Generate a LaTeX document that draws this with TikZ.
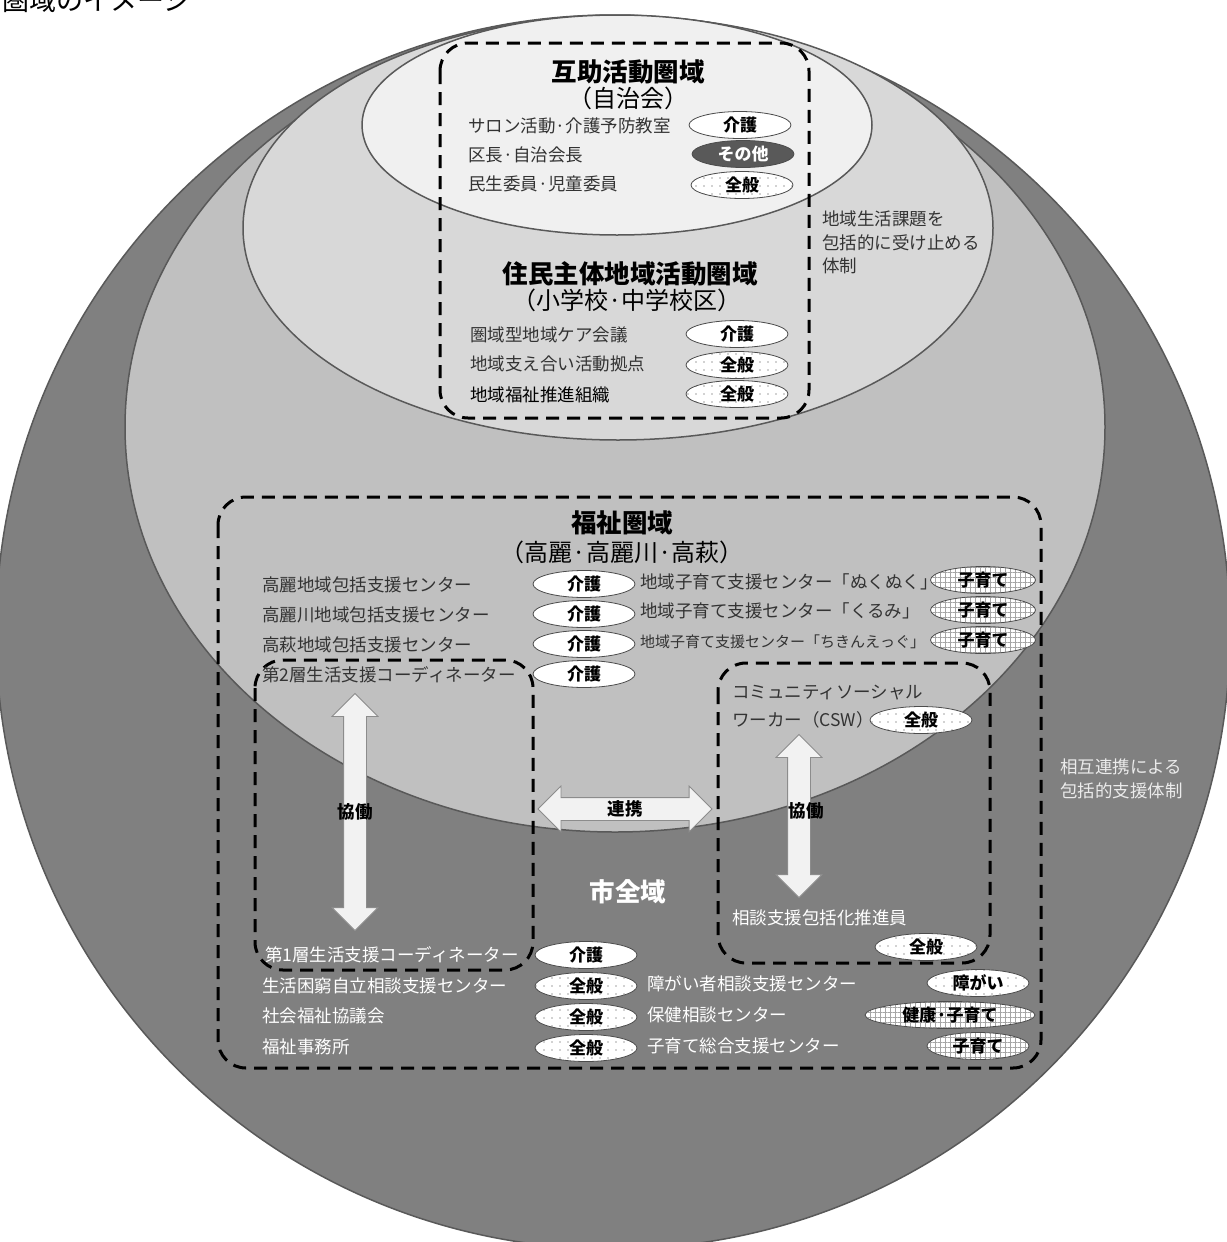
\documentclass[tikz,border=0pt]{standalone}
\usepackage{fontspec}
\setmainfont{Noto Sans CJK JP}
\usetikzlibrary{shapes.geometric,shapes.arrows,patterns.meta}
\definecolor{outergray}{RGB}{128,128,128}
\definecolor{fukugray}{RGB}{192,192,192}
\definecolor{juminggray}{RGB}{216,216,216}
\definecolor{gojogray}{RGB}{240,240,240}

\begin{document}
\begin{tikzpicture}[x=1pt,y=-1pt,
    badge/.style={ellipse,draw=black!70,line width=0.8pt,inner sep=0pt,
        minimum width=102pt,minimum height=27pt,font=\fontsize{17}{17}\selectfont\bfseries},
    kaigo/.style={badge,fill=white},
    zenpan/.style={badge,preaction={fill=white},
        pattern={Dots[distance=8pt,radius=0.6pt]},pattern color=black!75},
    kosodate/.style={badge,preaction={fill=white},
        pattern={Hatch[angle=0,distance=5pt,line width=0.5pt]},pattern color=black!35},
    sonota/.style={badge,fill=black!65,text=white},
    rowtext/.style={anchor=west,inner sep=0pt,text=black!80,font=\fontsize{17.5}{17.5}\selectfont},
    rowtextw/.style={rowtext,text=white},
    areatitle/.style={inner sep=0pt,font=\fontsize{25.5}{25.5}\selectfont\bfseries},
    areasub/.style={inner sep=0pt,font=\fontsize{24}{24}\selectfont},
    dbox/.style={line width=3pt,dash pattern=on 13pt off 8pt,rounded corners=28pt},
    blockarrow/.style={double arrow,draw=black!45,fill=black!5,line width=0.8pt,
        text width=0pt,text height=11pt,text depth=11pt,inner sep=0pt,
        double arrow head extend=11.5pt},
    arrowlabel/.style={inner sep=0pt,font=\fontsize{17.5}{17.5}\selectfont\bfseries}]

    \useasboundingbox (0,0) rectangle (1226,1242);

    \draw[draw=black!65,line width=1.5pt,fill=outergray] (613,632) circle [radius=617pt];
    \draw[draw=black!65,line width=1.5pt,fill=fukugray] (615,427) ellipse [x radius=490pt,y radius=405pt];
    \draw[draw=black!65,line width=1.5pt,fill=juminggray] (618,228) ellipse [x radius=375pt,y radius=212pt];
    \draw[draw=black!65,line width=1.5pt,fill=gojogray] (617,125) ellipse [x radius=255pt,y radius=110pt];

    \node[anchor=base west,inner sep=0pt,font=\fontsize{27}{27}\selectfont] (pagetitle) at (2,10) {圏域のイメージ};

    \draw[dbox] (440,43) rectangle (809,418);
    \draw[dbox] (218,497) rectangle (1041,1068);
    \draw[dbox] (255,660) rectangle (533,970);
    \draw[dbox] (718,663) rectangle (990,963);

    \node[areatitle] (gojo) at (628,72) {互助活動圏域};
    \node[areasub] (gojosub) at (628,98) {（自治会）};
    \node[rowtext] (salon) at (468,126) {サロン活動·介護予防教室};
    \node[rowtext] (kucho) at (468,155) {区長·自治会長};
    \node[rowtext] (minsei) at (468,184) {民生委員·児童委員};
    \node[kaigo] (salonb) at (740,125) {介護};
    \node[sonota] (kuchob) at (743,154) {その他};
    \node[zenpan] (minseib) at (742,185) {全般};

    \node[anchor=north west,inner sep=0pt,align=left,text=black!80,
        font=\fontsize{17.5}{23.5}\selectfont] (uketome) at (822,211) {地域生活課題を\\包括的に受け止める\\体制};

    \node[areatitle] (jumin) at (630,274) {住民主体地域活動圏域};
    \node[areasub] (juminsub) at (627,300) {（小学校·中学校区）};
    \node[rowtext] (caremeet) at (470,335) {圏域型地域ケア会議};
    \node[rowtext] (kyoten) at (470,364) {地域支え合い活動拠点};
    \node[rowtext,text=black] (suishin) at (470,395) {地域福祉推進組織};
    \node[kaigo] (caremeetb) at (737,334) {介護};
    \node[zenpan] (kyotenb) at (737,365) {全般};
    \node[zenpan] (suishinb) at (737,394) {全般};

    \node[areatitle] (fukushi) at (622,523) {福祉圏域};
    \node[areasub] (fukushisub) at (622,552) {（高麗·高麗川·高萩）};
    \node[rowtext] (koma) at (262,585) {高麗地域包括支援センター};
    \node[rowtext] (komagawa) at (262,615) {高麗川地域包括支援センター};
    \node[rowtext] (takahagi) at (262,645) {高萩地域包括支援センター};
    \node[rowtext] (sc2) at (262,675) {第2層生活支援コーディネーター};
    \node[kaigo] (komab) at (584,584) {介護};
    \node[kaigo] (komagawab) at (584,614) {介護};
    \node[kaigo] (takahagib) at (584,644) {介護};
    \node[kaigo] (sc2b) at (584,674) {介護};
    \node[rowtext] (nukunuku) at (640,582) {地域子育て支援センター「ぬくぬく」};
    \node[rowtext] (kurumi) at (640,611) {地域子育て支援センター「くるみ」};
    \node[rowtext,font=\fontsize{15}{15}\selectfont] (chikin) at (640,642) {地域子育て支援センター「ちきんえっぐ」};
    \node[kosodate,minimum width=105pt] (nukunukub) at (983,580) {子育て};
    \node[kosodate,minimum width=105pt] (kurumib) at (983,610) {子育て};
    \node[kosodate,minimum width=105pt] (chikinb) at (983,640) {子育て};

    \node[rowtext] (csw1) at (732,693) {コミュニティソーシャル};
    \node[rowtext] (csw2) at (732,720) {ワーカー（CSW）};
    \node[zenpan] (cswb) at (921,720) {全般};
    \node[rowtextw] (soudan) at (732,918) {相談支援包括化推進員};
    \node[zenpan] (soudanb) at (926,947) {全般};

    \node[rowtextw] (sc1) at (265,955) {第1層生活支援コーディネーター};
    \node[kaigo] (sc1b) at (586,955) {介護};
    \node[rowtextw] (konkyu) at (262,986) {生活困窮自立相談支援センター};
    \node[rowtextw] (shakyo) at (262,1016) {社会福祉協議会};
    \node[rowtextw] (jimusho) at (262,1047) {福祉事務所};
    \node[zenpan] (konkyub) at (586,986) {全般};
    \node[zenpan] (shakyob) at (586,1017) {全般};
    \node[zenpan] (jimushob) at (586,1048) {全般};
    \node[rowtextw] (shogai) at (647,984) {障がい者相談支援センター};
    \node[rowtextw] (hoken) at (647,1015) {保健相談センター};
    \node[rowtextw] (kosodatec) at (647,1046) {子育て総合支援センター};
    \node[zenpan] (shogaib) at (978,983) {障がい};
    \node[kosodate,minimum width=170pt] (hokenb) at (950,1015) {健康·子育て};
    \node[kosodate] (kosodatecb) at (978,1046) {子育て};

    \node[blockarrow,rotate=90,minimum height=237pt] (kyodo1) at (355,812) {};
    \node[arrowlabel] at (kyodo1.center) {協働};
    \node[blockarrow,rotate=90,minimum height=163pt] (kyodo2) at (799,816) {};
    \node[arrowlabel] at (806,811) {協働};
    \node[blockarrow,minimum height=174pt] (renkei) at (625,809) {};
    \node[arrowlabel] at (renkei.center) {連携};

    \node[inner sep=0pt,text=white,font=\fontsize{25.5}{25.5}\selectfont\bfseries] (shizeniki) at (628,892) {市全域};
    \node[anchor=north west,inner sep=0pt,align=left,text=white!92!black,
        font=\fontsize{17.5}{24}\selectfont] (sogorenkei) at (1060,759) {相互連携による\\包括的支援体制};
\end{tikzpicture}
\end{document}
